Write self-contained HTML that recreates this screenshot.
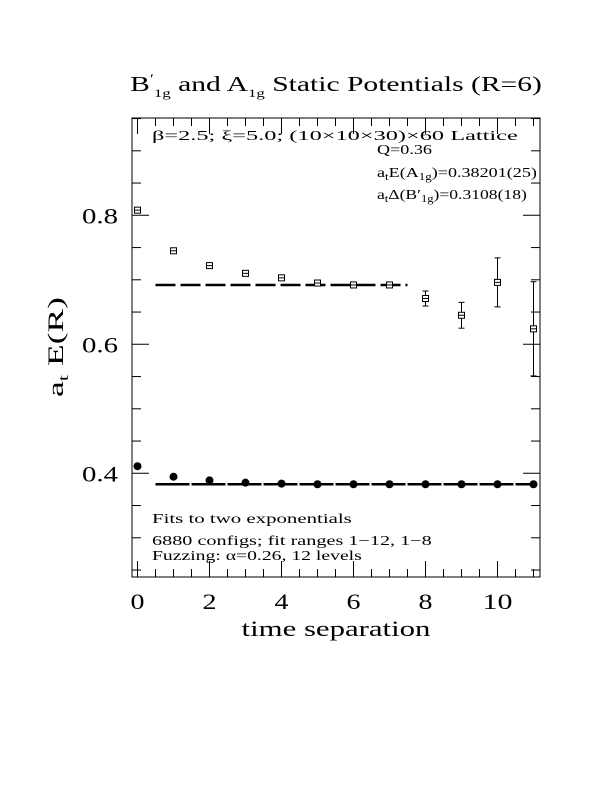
<!DOCTYPE html>
<html><head><meta charset="utf-8"><style>
html,body{margin:0;padding:0;background:#fff;}
svg{display:block;font-family:"Liberation Serif",serif;}
</style></head><body>
<svg id="chart" width="612" height="792" viewBox="0 0 612 792">
<text class="fit" data-w="412" x="336" y="91" font-size="21" text-anchor="middle">B<tspan font-size="13" dy="-8">′</tspan><tspan font-size="12" dy="14">1g</tspan><tspan dy="-6"> and A</tspan><tspan font-size="12" dy="6">1g</tspan><tspan dy="-6"> Static Potentials (R=6)</tspan></text>
<g transform="translate(63,347) rotate(-90)"><text class="fit" data-w="100" x="0" y="0" font-size="22" text-anchor="middle">a<tspan font-size="14" dy="5">t</tspan><tspan dy="-5"> E(R)</tspan></text></g>
<text class="fit" data-w="189" x="336" y="636" font-size="22" text-anchor="middle">time separation</text>
<g font-size="14">
<text class="fit" data-w="366" x="152" y="140">β=2.5; ξ=5.0; (10×10×30)×60 Lattice</text>
<text class="fit" data-w="55" x="377" y="154">Q=0.36</text>
<text class="fit" data-w="160" x="377" y="177">a<tspan font-size="10" dy="3">t</tspan><tspan dy="-3">E(A</tspan><tspan font-size="10" dy="3">1g</tspan><tspan dy="-3">)=0.38201(25)</tspan></text>
<text class="fit" data-w="150" x="377" y="199">a<tspan font-size="10" dy="3">t</tspan><tspan dy="-3">Δ(B′</tspan><tspan font-size="10" dy="3">1g</tspan><tspan dy="-3">)=0.3108(18)</tspan></text>
<text class="fit" data-w="200" x="152" y="523">Fits to two exponentials</text>
<text class="fit" data-w="280" x="152" y="545">6880 configs; fit ranges 1−12, 1−8</text>
<text class="fit" data-w="210" x="152" y="560">Fuzzing: α=0.26, 12 levels</text>
</g>
<g id="axes"></g>
<g id="marks"></g>
</svg>
<script>
const tVals=[0,1,2,3,4,5,6,7,8,9,10,11];
const a1gVals=[0.411,0.3947,0.389,0.3855,0.384,0.383,0.383,0.383,0.383,0.383,0.383,0.383];
const b1gVals=[0.808,0.745,0.722,0.710,0.703,0.695,0.692,0.692,0.671,0.645,0.696,0.624];
const b1gErr=[0.002,0.002,0.002,0.002,0.002,0.002,0.002,0.003,0.0116,0.02,0.038,0.073];
const a1gFit=[0.383,0.5,11];
const b1gFit=[0.692,0.5,7.5];
const xTicks=[0,2,4,6,8,10];
const yTicks=[0.4,0.6,0.8];
const yTickLabels=["0.4","0.6","0.8"];

const X0=137.5,XS=36,Y0=344.3,YS=645;
const L=132,R=540,T=118,B=577;
function sx(v){return X0+v*XS;}
function sy(v){return Y0-(v-0.6)*YS;}
const NS="http://www.w3.org/2000/svg";
function mk(tag,attrs,parent){const e=document.createElementNS(NS,tag);for(const k in attrs)e.setAttribute(k,attrs[k]);parent.appendChild(e);return e;}
const axes=document.getElementById('axes'),marks=document.getElementById('marks');
const frame=mk('rect',{x:L,y:T,width:R-L,height:B-T,fill:'none',stroke:'#000','stroke-width':1},axes);


for(let v=0;v<=11;v+=0.5){
  const maj=Math.abs(v/2-Math.round(v/2))<1e-6;const len=maj?16:8;const x=sx(v);
  const t1=mk('line',{x1:x,x2:x,y1:B,y2:B-len,stroke:'#000'},axes);
  
  
  const t2=mk('line',{x1:x,x2:x,y1:T,y2:T+len,stroke:'#000'},axes);
  
  
}
xTicks.forEach(v=>{
  const t=mk('text',{x:sx(v),y:609,'font-size':22,'text-anchor':'middle'},axes);t.textContent=String(v);
  t.setAttribute('class','fit');
  t.setAttribute('data-w',String(v).length===1?14:30);
  
  
});
for(let i=5;i<=19;i++){
  const v=i*0.05;const maj=(i%4===0);const len=maj?17:9;const y=sy(v);
  if(y<T||y>B)continue;
  const t1=mk('line',{x1:L,x2:L+len,y1:y,y2:y,stroke:'#000'},axes);
  
  
  const t2=mk('line',{x1:R,x2:R-len,y1:y,y2:y,stroke:'#000'},axes);
  
  
}
yTicks.forEach((v,i)=>{
  const t=mk('text',{x:100,y:sy(v)+8,'font-size':22,'text-anchor':'middle'},axes);t.textContent=yTickLabels[i];
  t.setAttribute('class','fit');
  t.setAttribute('data-w','36');
  
  
});
const f1=mk('line',{x1:sx(a1gFit[1]),x2:sx(a1gFit[2]),y1:sy(a1gFit[0]),y2:sy(a1gFit[0]),stroke:'#000','stroke-width':2.5,'stroke-dasharray':'34 2'},marks);


const f2=mk('line',{x1:sx(b1gFit[1]),x2:sx(b1gFit[2]),y1:sy(b1gFit[0]),y2:sy(b1gFit[0]),stroke:'#000','stroke-width':2.5,'stroke-dasharray':'20 5'},marks);


tVals.forEach((t,i)=>{
  const c=mk('circle',{cx:sx(t),cy:sy(a1gVals[i]),r:4,fill:'#000'},marks);
  
  
});
tVals.forEach((t,i)=>{
  const x=sx(t),y=sy(b1gVals[i]),e=b1gErr[i]*YS;
  const g=mk('g',{},marks);
  
  
  mk('line',{x1:x,x2:x,y1:y-e,y2:y+e,stroke:'#000'},g);
  mk('line',{x1:x-3,x2:x+3,y1:y-e,y2:y-e,stroke:'#000'},g);
  mk('line',{x1:x-3,x2:x+3,y1:y+e,y2:y+e,stroke:'#000'},g);
  mk('rect',{x:x-3,y:y-3,width:6,height:6,fill:'#fff',stroke:'#000'},g);
  mk('line',{x1:x-3,x2:x+3,y1:y,y2:y,stroke:'#000'},g);
});
document.querySelectorAll('text.fit').forEach(el=>{
  const w=el.getComputedTextLength();const target=+el.getAttribute('data-w');
  if(!w||!target)return;
  const s=target/w;const x=+el.getAttribute('x');
  el.setAttribute('transform','translate('+x+',0) scale('+s+',1) translate('+(-x)+',0)');
});
</script>
</body></html>
